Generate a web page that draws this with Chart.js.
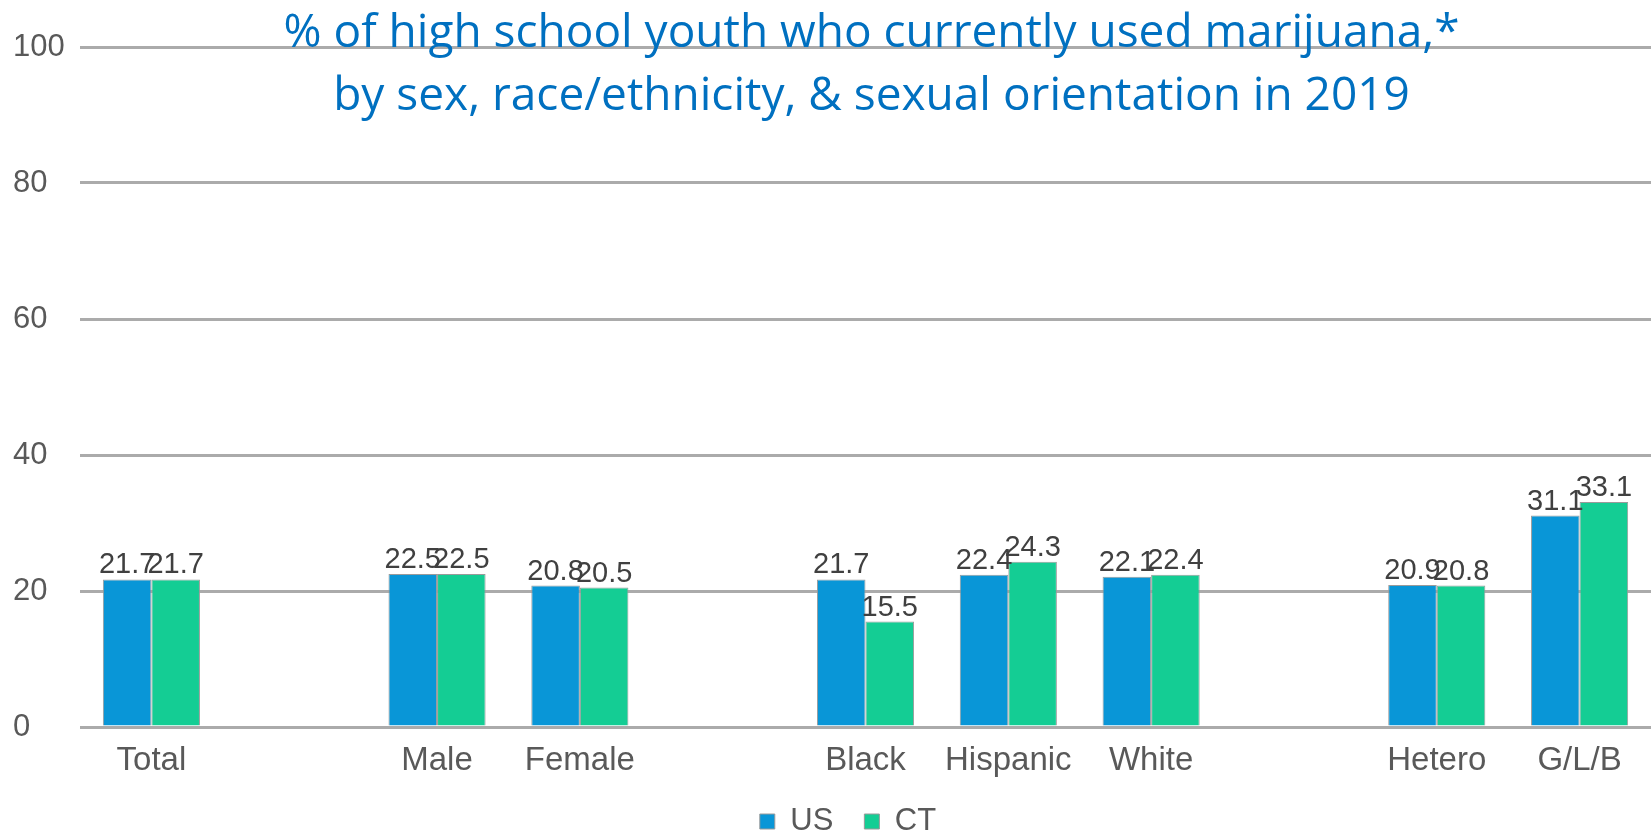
<!DOCTYPE html>
<html>
<head>
<meta charset="utf-8">
<script src="https://cdn.jsdelivr.net/npm/chart.js@4/dist/chart.umd.min.js"></script>
<style>
  body { margin: 0; background: #fff; }
  #wrap { position: relative; width: 1651px; height: 833px; overflow: hidden; }
  #title {
    position: absolute; left: 92px; top: -2px; width: 1559px;
    text-align: center; color: #0070C0;
    font-family: "Open Sans", sans-serif; font-size: 46px; line-height: 63px;
    pointer-events: none;
  }
</style>
</head>
<body>
<div id="wrap">
  <canvas id="myChart"></canvas>
  <div id="title">% of high school youth who currently used marijuana,*<br>by sex, race/ethnicity, &amp; sexual orientation in 2019</div>
</div>
<script>
const groups = ['Total', '', 'Male', 'Female', '', 'Black', 'Hispanic', 'White', '', 'Hetero', 'G/L/B'];
const usValues = [21.7, null, 22.5, 20.8, null, 21.7, 22.4, 22.1, null, 20.9, 31.1];
const ctValues = [21.7, null, 22.5, 20.5, null, 15.5, 24.3, 22.4, null, 20.8, 33.1];
const yTicks = [0, 20, 40, 60, 80, 100];

// value labels above each bar
const barLabels = {
    id: 'barLabels',
    afterDatasetsDraw(chart) {
        const ctx = chart.ctx;
        ctx.save();
        ctx.font = '29px "Liberation Sans", Arial, sans-serif';
        ctx.fillStyle = '#404040';
        ctx.textAlign = 'center';
        ctx.textBaseline = 'alphabetic';
        chart.data.datasets.forEach((ds, i) => {
            chart.getDatasetMeta(i).data.forEach((bar, j) => {
                if (ds.data[j] == null) return;
                ctx.fillText(ds.data[j].toFixed(1), bar.x, bar.y - 6);
            });
        });
        ctx.restore();
    }
};

// legend sits a little right of centre and a bit higher in the original
const legendNudge = {
    id: 'legendNudge',
    afterLayout(chart) {
        const lg = chart.legend;
        lg.left += 16;
        lg.right += 16;
        lg.top -= 6;
        lg.bottom -= 6;
    }
};

const ctx = document.getElementById('myChart').getContext('2d');

new Chart(ctx, {
    type: 'bar',
    data: {
        labels: groups,
        datasets: [{
            label: 'US',
            data: usValues,
            backgroundColor: 'rgb(9, 150, 215)',
            borderColor: '#9a9a9a',
            borderWidth: 1
        }, {
            label: 'CT',
            data: ctValues,
            backgroundColor: 'rgb(20, 205, 148)',
            borderColor: '#9a9a9a',
            borderWidth: 1
        }]
    },
    options: {
        responsive: true,
        maintainAspectRatio: false,
        animation: false,
        categoryPercentage: 0.68,
        barPercentage: 1,
        layout: { padding: { left: 13, top: 47, right: 0, bottom: -20 } },
        plugins: {
            tooltip: { enabled: false },
            legend: {
                position: 'bottom',
                labels: {
                    boxWidth: 15,
                    boxHeight: 15,
                    padding: 31,
                    color: '#595959',
                    font: { family: '"Liberation Sans", Arial, sans-serif', size: 31 }
                }
            }
        },
        scales: {
            x: {
                afterFit: axis => { axis.height = 54; },
                grid: { display: false, drawTicks: false },
                border: { display: false },
                ticks: {
                    color: '#595959',
                    padding: 14,
                    maxRotation: 0,
                    autoSkip: false,
                    font: { family: '"Liberation Sans", Arial, sans-serif', size: 33 }
                }
            },
            y: {
                min: 0,
                max: 100,
                afterBuildTicks: axis => { axis.ticks = yTicks.map(v => ({ value: v })); },
                afterFit: axis => { axis.width = 67; },
                grid: { color: '#ababab', lineWidth: 3, drawTicks: false },
                border: { display: false },
                ticks: {
                    crossAlign: 'far',
                    color: '#595959',
                    font: { family: '"Liberation Sans", Arial, sans-serif', size: 31 }
                }
            }
        }
    },
    plugins: [barLabels, legendNudge]
});
</script>
</body>
</html>
